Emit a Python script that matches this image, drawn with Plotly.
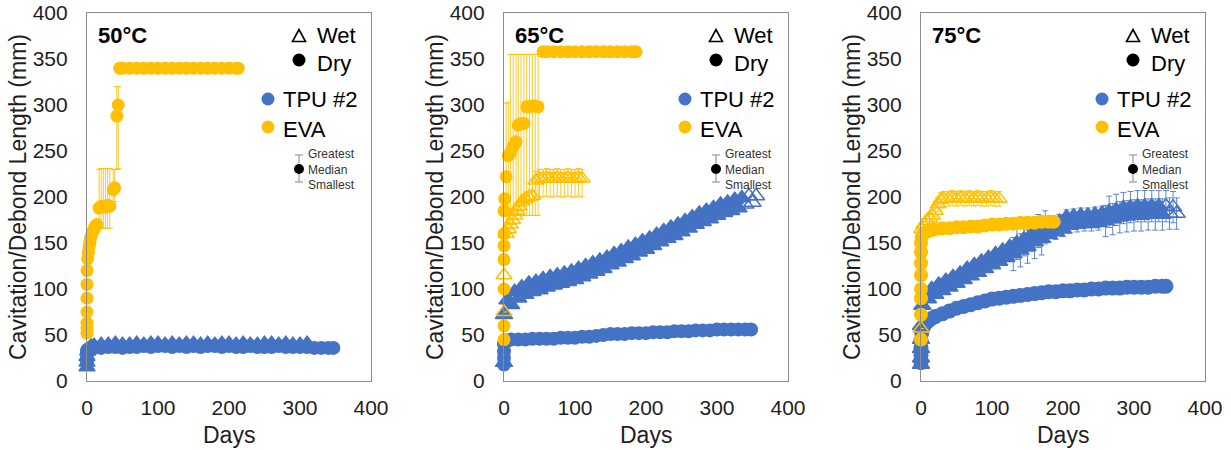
import plotly.graph_objects as go

# ---------------- data ----------------
TEMPS = ["50°C", "65°C", "75°C"]
X_TICKS = [0, 100, 200, 300, 400]
Y_TICKS = [0, 50, 100, 150, 200, 250, 300, 350, 400]

# 50 °C
P50_TPU_DRY_DAYS = [0, 0, 0, 0, 1, 3, 5, 10, 20, 30, 40, 50, 60, 70, 80, 90, 100, 110, 120, 130, 140,
                    150, 160, 170, 180, 190, 200, 210, 220, 230, 240, 250, 260, 270, 280, 290, 300,
                    310, 320, 330, 340, 347]
P50_TPU_DRY = [20, 25, 30, 33, 34, 35, 36, 36, 36, 37, 37, 36, 37, 37, 38, 37, 38, 38, 37, 38, 37,
               38, 37, 38, 38, 37, 38, 37, 37, 38, 37, 37, 37, 38, 37, 37, 37, 37, 36, 36, 36, 36]
P50_TPU_WET_DAYS = [0, 0, 0, 1, 3, 6, 10, 20, 30, 40, 50, 60, 70, 80, 90, 100, 110, 120, 130, 140,
                    150, 160, 170, 180, 190, 200, 210, 220, 230, 240, 250, 260, 270, 280, 290, 300, 310]
P50_TPU_WET = [15, 20, 26, 32, 36, 38, 39, 40, 40, 41, 40, 40, 41, 40, 41, 41, 40, 41, 40, 41,
               41, 40, 41, 40, 41, 41, 40, 41, 40, 40, 41, 41, 40, 41, 40, 40, 41]
P50_EVA_DRY_DAYS = [0, 0, 0, 0, 0, 0, 0, 1, 2, 3, 4, 5, 6, 8, 10, 12, 14, 17, 20, 23, 26, 29, 32,
                    37, 39, 42, 44, 46, 50, 60, 70, 80, 90, 100, 110, 120, 130, 140, 150, 160, 170,
                    180, 190, 200, 210, 213]
P50_EVA_DRY = [52, 58, 63, 75, 90, 105, 120, 133, 140, 146, 150, 155, 158, 162, 165, 168, 170, 188,
               190, 190, 189, 191, 190, 208, 210, 288, 300, 340, 340, 340, 340, 340, 340, 340, 340,
               340, 340, 340, 340, 340, 340, 340, 340, 340, 340, 340]
P50_EVA_DRY_ERR_HI = [0, 0, 0, 0, 0, 0, 0, 0, 0, 0, 8, 10, 12, 10, 8, 5, 3, 42, 41, 41, 42, 40, 41,
                      22, 20, 32, 20, 0, 0, 0, 0, 0, 0, 0, 0, 0, 0, 0, 0, 0, 0, 0, 0, 0, 0, 0]
P50_EVA_DRY_ERR_LO = [0, 0, 0, 0, 0, 0, 0, 0, 0, 0, 0, 0, 0, 4, 6, 6, 6, 22, 24, 24, 23, 25, 24,
                      15, 15, 58, 69, 0, 0, 0, 0, 0, 0, 0, 0, 0, 0, 0, 0, 0, 0, 0, 0, 0, 0, 0]

# 65 °C
P65_TPU_DRY_DAYS = [0, 0, 0, 0, 2, 5, 10, 20, 30, 40, 50, 60, 70, 80, 90, 100, 110, 120, 130, 140,
                    150, 160, 170, 180, 190, 200, 210, 220, 230, 240, 250, 260, 270, 280, 290, 300,
                    310, 320, 330, 340, 348]
P65_TPU_DRY = [18, 25, 32, 40, 44, 44, 45, 45, 45, 46, 46, 46, 46, 47, 47, 47, 48, 48, 49, 50,
               51, 51, 51, 52, 52, 52, 53, 53, 53, 54, 54, 54, 55, 55, 55, 56, 56, 56, 56, 56, 56]
P65_TPU_WET_DAYS = [0,
                    0, 5, 10, 15, 20, 25, 30, 35, 40, 45,
                    50, 55, 60, 65, 70, 75, 80, 85, 90, 95,
                    100, 105, 110, 115, 120, 125, 130, 135, 140, 145,
                    150, 155, 160, 165, 170, 175, 180, 185, 190, 195,
                    200, 205, 210, 215, 220, 225, 230, 235, 240, 245,
                    250, 255, 260, 265, 270, 275, 280, 285, 290, 295,
                    300, 305, 310, 315, 320, 325, 330, 335, 340, 345,
                    350, 355]
P65_TPU_WET = [20,
               72, 88, 83, 97, 90, 102, 94, 106, 97, 108,
               99, 111, 102, 113, 104, 115, 106, 117, 108, 119,
               110, 122, 113, 125, 116, 128, 119, 131, 122, 134,
               126, 138, 129, 141, 133, 145, 136, 148, 140, 152,
               143, 155, 147, 159, 151, 163, 155, 167, 158, 170,
               162, 174, 166, 178, 170, 182, 173, 185, 176, 188,
               180, 192, 183, 194, 185, 197, 188, 199, 192, 201,
               194, 201]
P65_EVA_DRY_DAYS = [0, 0, 0, 0, 0, 0, 0, 1, 3, 6, 9, 13, 17, 20, 24, 28, 32, 36, 40, 44, 48, 55, 60,
                    70, 80, 90, 100, 110, 120, 130, 140, 150, 160, 170, 180, 186]
P65_EVA_DRY = [45, 60, 100, 132, 147, 160, 185, 198, 222, 245, 248, 255, 260, 278, 280, 280, 298,
               298, 299, 299, 298, 358, 358, 358, 358, 358, 358, 358, 358, 358, 358, 358, 358, 358,
               358, 358]
P65_EVA_DRY_ERR_HI = [0, 0, 0, 0, 0, 0, 0, 0, 80, 58, 107, 100, 95, 77, 75, 75, 57, 57, 56, 56, 57,
                      0, 0, 0, 0, 0, 0, 0, 0, 0, 0, 0, 0, 0, 0, 0]
P65_EVA_DRY_ERR_LO = [0, 0, 0, 0, 0, 0, 0, 0, 40, 65, 68, 75, 80, 98, 100, 100, 118, 118, 119, 119,
                      118, 0, 0, 0, 0, 0, 0, 0, 0, 0, 0, 0, 0, 0, 0, 0]
P65_EVA_WET_DAYS = [0, 0, 3, 6, 9, 12, 15, 18, 21, 25, 30, 35, 40, 45, 50, 55, 60, 65, 70, 75, 80,
                    85, 90, 95, 100, 105, 110]
P65_EVA_WET = [75, 115, 160, 165, 170, 175, 180, 185, 190, 195, 198, 200, 201, 218, 220, 220, 221,
               220, 220, 221, 220, 220, 221, 220, 220, 221, 220]
P65_EVA_WET_ERR_HI = [0, 15, 5, 5, 5, 5, 5, 5, 5, 5, 5, 5, 5, 10, 10, 10, 10, 10, 10, 10, 10, 10, 10,
                      10, 10, 10, 10]
P65_EVA_WET_ERR_LO = [0, 15, 5, 5, 5, 5, 5, 5, 5, 5, 5, 5, 5, 20, 20, 20, 20, 20, 20, 20, 20, 20, 20,
                      20, 20, 20, 20]

# 75 °C
P75_TPU_DRY_DAYS = [0, 0, 0, 0, 1, 3, 6, 10, 15, 20, 30, 40, 50, 60, 70, 80, 90, 100, 110, 120, 130,
                    140, 150, 160, 170, 180, 190, 200, 210, 220, 230, 240, 250, 260, 270, 280, 290,
                    300, 310, 320, 330, 340, 345]
P75_TPU_DRY = [20, 28, 36, 44, 52, 58, 62, 65, 68, 70, 73, 76, 79, 81, 83, 85, 87, 89, 90, 91, 92,
               93, 94, 95, 96, 97, 97, 98, 98, 99, 99, 100, 100, 101, 101, 101, 102, 102, 102, 102,
               103, 103, 103]
P75_TPU_WET_DAYS = [0, 0, 0, 0, 0, 2,
                    5, 10, 15, 20, 25, 30, 35, 40, 45, 50,
                    55, 60, 65, 70, 75, 80, 85, 90, 95, 100,
                    105, 110, 115, 120, 125, 130, 135, 140, 145, 150,
                    155, 160, 165, 170, 175, 180, 185, 190, 195, 200,
                    205, 210, 215, 220, 225, 230, 235, 240, 245, 250,
                    255, 260, 265, 270, 275, 280, 285, 290, 295, 300,
                    305, 310, 315, 320, 325, 330, 335, 340, 345, 350,
                    355, 360]
P75_TPU_WET = [18, 25, 35, 45, 60, 82,
               90, 89, 100, 94, 105, 98, 109, 102, 113, 106,
               117, 110, 122, 114, 126, 118, 130, 122, 134, 126,
               138, 130, 142, 134, 146, 138, 150, 142, 154, 146,
               159, 151, 163, 155, 167, 159, 170, 162, 173, 165,
               178, 169, 179, 170, 180, 171, 180, 171, 181, 172,
               182, 174, 184, 176, 186, 178, 188, 179, 189, 180,
               190, 180, 190, 181, 190, 181, 190, 181, 190, 182,
               189, 182]
P75_TPU_WET_ERR = [0, 0, 0, 0, 0, 0,
                   3, 3, 3, 3, 3, 3, 3, 3, 3, 3,
                   3, 3, 3, 3, 3, 3, 3, 3, 3, 3,
                   3, 3, 3, 3, 3, 18, 18, 18, 18, 18,
                   18, 18, 18, 18, 18, 8, 8, 8, 8, 8,
                   8, 8, 8, 8, 8, 8, 8, 8, 8, 8,
                   8, 17, 17, 17, 17, 17, 17, 17, 17, 17,
                   17, 17, 17, 17, 17, 17, 17, 17, 17, 17,
                   17, 17]
P75_EVA_DRY_DAYS = [0, 0, 0, 0, 0, 0, 0, 0, 1, 3, 6, 10, 15, 20, 30, 40, 50, 60, 70, 80, 90, 100,
                    110, 120, 130, 140, 150, 160, 170, 180, 187]
P75_EVA_DRY = [45, 72, 90, 100, 115, 128, 140, 150, 156, 160, 162, 163, 164, 165, 166, 166, 167, 167,
               168, 168, 169, 170, 170, 171, 171, 172, 172, 172, 173, 173, 173]
P75_EVA_WET_DAYS = [0, 1, 4, 8, 12, 16, 20, 24, 28, 32, 38, 44, 50, 56, 62, 68, 74, 80, 86, 92, 98,
                    104, 110]
P75_EVA_WET = [57, 165, 170, 174, 177, 180, 185, 192, 197, 198, 198, 199, 198, 199, 198, 199, 198,
               199, 198, 198, 199, 198, 198]
P75_EVA_WET_ERR = [0, 0, 6, 6, 6, 6, 6, 8, 8, 8, 8, 8, 8, 8, 8, 8, 8, 8, 8, 8, 8, 8, 8]

# ---------------- styling ----------------
BLUE = "#4472C4"
GOLD = "#FFC000"
BLUE_ERR = "rgba(68,114,196,0.85)"
GOLD_ERR = "rgba(255,192,0,0.85)"
FONT = "Liberation Sans, Arial, sans-serif"
TXT = "#1e1e1e"

W, H = 1231, 450
PLOT_LEFT = [87, 504, 921]
PLOT_W = 284
PLOT_TOP, PLOT_BOTTOM = 13, 381
PLOT_H = PLOT_BOTTOM - PLOT_TOP

fig = go.Figure()


def add_series(k, days, vals, color, err_color, wet, hi=None, lo=None, open_tail=0,
               open_all=False, size=13):
    ax = "" if k == 0 else str(k + 1)
    n = min(len(days), len(vals))
    days, vals = days[:n], vals[:n]
    if wet:
        if open_all:
            symbols = ["triangle-up-open"] * n
        else:
            symbols = ["triangle-up"] * (n - open_tail) + ["triangle-up-open"] * open_tail
        marker = dict(symbol=symbols, size=size, color=color, line=dict(width=1.5, color=color))
    else:
        marker = dict(symbol="circle", size=size, color=color, line=dict(width=0))
    err = None
    if hi is not None:
        lo = lo if lo is not None else hi
        err = dict(type="data", symmetric=False, array=hi[:n], arrayminus=lo[:n],
                   color=err_color, thickness=1, width=3)
    fig.add_trace(go.Scatter(x=days, y=vals, mode="markers", marker=marker, error_y=err,
                             cliponaxis=False, showlegend=False, hoverinfo="x+y",
                             xaxis="x" + ax, yaxis="y" + ax))


# 50 C
add_series(0, P50_TPU_WET_DAYS, P50_TPU_WET, BLUE, BLUE_ERR, True, size=14)
add_series(0, P50_TPU_DRY_DAYS, P50_TPU_DRY, BLUE, BLUE_ERR, False, size=14)
add_series(0, P50_EVA_DRY_DAYS, P50_EVA_DRY, GOLD, GOLD_ERR, False, P50_EVA_DRY_ERR_HI, P50_EVA_DRY_ERR_LO)
# 65 C
add_series(1, P65_TPU_WET_DAYS, P65_TPU_WET, BLUE, BLUE_ERR, True, open_tail=4, size=15)
add_series(1, P65_TPU_DRY_DAYS, P65_TPU_DRY, BLUE, BLUE_ERR, False, size=14)
add_series(1, P65_EVA_WET_DAYS, P65_EVA_WET, GOLD, GOLD_ERR, True, P65_EVA_WET_ERR_HI, P65_EVA_WET_ERR_LO, open_all=True, size=14)
add_series(1, P65_EVA_DRY_DAYS, P65_EVA_DRY, GOLD, GOLD_ERR, False, P65_EVA_DRY_ERR_HI, P65_EVA_DRY_ERR_LO)
# 75 C
add_series(2, P75_TPU_WET_DAYS, P75_TPU_WET, BLUE, BLUE_ERR, True, P75_TPU_WET_ERR, P75_TPU_WET_ERR, open_tail=4, size=15)
add_series(2, P75_TPU_DRY_DAYS, P75_TPU_DRY, BLUE, BLUE_ERR, False, size=15)
add_series(2, P75_EVA_DRY_DAYS, P75_EVA_DRY, GOLD, GOLD_ERR, False, size=14)
add_series(2, P75_EVA_WET_DAYS, P75_EVA_WET, GOLD, GOLD_ERR, True, P75_EVA_WET_ERR, P75_EVA_WET_ERR, open_all=True, size=14)

layout = dict(width=W, height=H, margin=dict(l=0, r=0, t=0, b=0, pad=0), autosize=False,
              paper_bgcolor="white", plot_bgcolor="white", showlegend=False,
              font=dict(family=FONT, color=TXT))

y_dom = [(H - PLOT_BOTTOM) / H, (H - PLOT_TOP) / H]
annotations = []
shapes = []


def fy(d):
    return 1 - d / PLOT_H


def fx(p):
    return p / PLOT_W


for k in range(3):
    ax = "" if k == 0 else str(k + 1)
    x0 = PLOT_LEFT[k] / W
    x1 = (PLOT_LEFT[k] + PLOT_W) / W
    common = dict(showline=True, linecolor="#8c8c8c", linewidth=1.2, mirror=True, showgrid=False,
                  zeroline=False, ticks="", automargin=False,
                  tickfont=dict(family=FONT, size=21, color=TXT))
    layout["xaxis" + ax] = dict(common, domain=[x0, x1], range=[0, 400], tickvals=X_TICKS,
                                anchor="y" + ax, ticklabelstandoff=8)
    layout["yaxis" + ax] = dict(common, domain=y_dom, range=[0, 400], tickvals=Y_TICKS,
                                anchor="x" + ax, ticklabelstandoff=14)
    xr = "x" + ax + " domain"
    yr = "y" + ax + " domain"
    # axis titles
    annotations.append(dict(text="Days", xref="paper", yref="paper", x=(x0 + x1) / 2, y=15 / H,
                            xanchor="center", yanchor="middle", showarrow=False,
                            font=dict(size=23, family=FONT, color=TXT)))
    annotations.append(dict(text="Cavitation/Debond Length (mm)", xref="paper", yref="paper",
                            x=(PLOT_LEFT[k] - 69) / W, y=(H - 197) / H, textangle=-90,
                            xanchor="center", yanchor="middle", showarrow=False,
                            font=dict(size=23, family=FONT, color=TXT)))
    # temperature label
    annotations.append(dict(text="<b>" + TEMPS[k] + "</b>", xref=xr, yref=yr, x=fx(9), y=fy(22),
                            xanchor="left", yanchor="middle", showarrow=False,
                            font=dict(size=22, family=FONT, color="black")))
    # legend texts
    for txt, d, xl in [("Wet", 22, 228), ("Dry", 50, 228), ("TPU #2", 87, 194), ("EVA", 116, 194)]:
        annotations.append(dict(text=txt, xref=xr, yref=yr, x=fx(xl), y=fy(d), xanchor="left",
                                yanchor="middle", showarrow=False,
                                font=dict(size=22, family=FONT, color="black")))
    annotations.append(dict(text="Greatest<br>Median<br>Smallest", xref=xr, yref=yr, x=fx(219),
                            y=fy(157), xanchor="left", yanchor="middle", align="left",
                            showarrow=False, font=dict(size=12, family=FONT, color="#333333")))
    # legend symbols
    shapes.append(dict(type="path", xref=xr, yref=yr, xsizemode="pixel", ysizemode="pixel",
                       xanchor=fx(212), yanchor=fy(23), path="M-6.5,-5.5L6.5,-5.5L0,6.5Z",
                       line=dict(color="black", width=1.6), fillcolor="rgba(0,0,0,0)"))
    for cx, d, col in [(212, 47, "black"), (181, 86, BLUE), (181, 114, GOLD)]:
        shapes.append(dict(type="circle", xref=xr, yref=yr, xsizemode="pixel", ysizemode="pixel",
                           xanchor=fx(cx), yanchor=fy(d), x0=-6.5, x1=6.5, y0=-6.5, y1=6.5,
                           fillcolor=col, line=dict(width=0)))
    # error-bar key
    shapes.append(dict(type="line", xref=xr, yref=yr, xsizemode="pixel", xanchor=fx(212),
                       x0=0, x1=0, y0=fy(142), y1=fy(169), line=dict(color="#9a9a9a", width=1.2)))
    for d in (142, 169):
        shapes.append(dict(type="line", xref=xr, yref=yr, xsizemode="pixel", xanchor=fx(212),
                           x0=-4, x1=4, y0=fy(d), y1=fy(d), line=dict(color="#9a9a9a", width=1.2)))
    shapes.append(dict(type="circle", xref=xr, yref=yr, xsizemode="pixel", ysizemode="pixel",
                       xanchor=fx(212), yanchor=fy(156), x0=-5, x1=5, y0=-5, y1=5,
                       fillcolor="black", line=dict(width=0)))

layout["annotations"] = annotations
layout["shapes"] = shapes
fig.update_layout(**layout)
fig.write_html("out.html",
               post_script="document.body.style.margin='0';document.body.style.padding='0';"
                           "document.documentElement.style.overflow='hidden';")
